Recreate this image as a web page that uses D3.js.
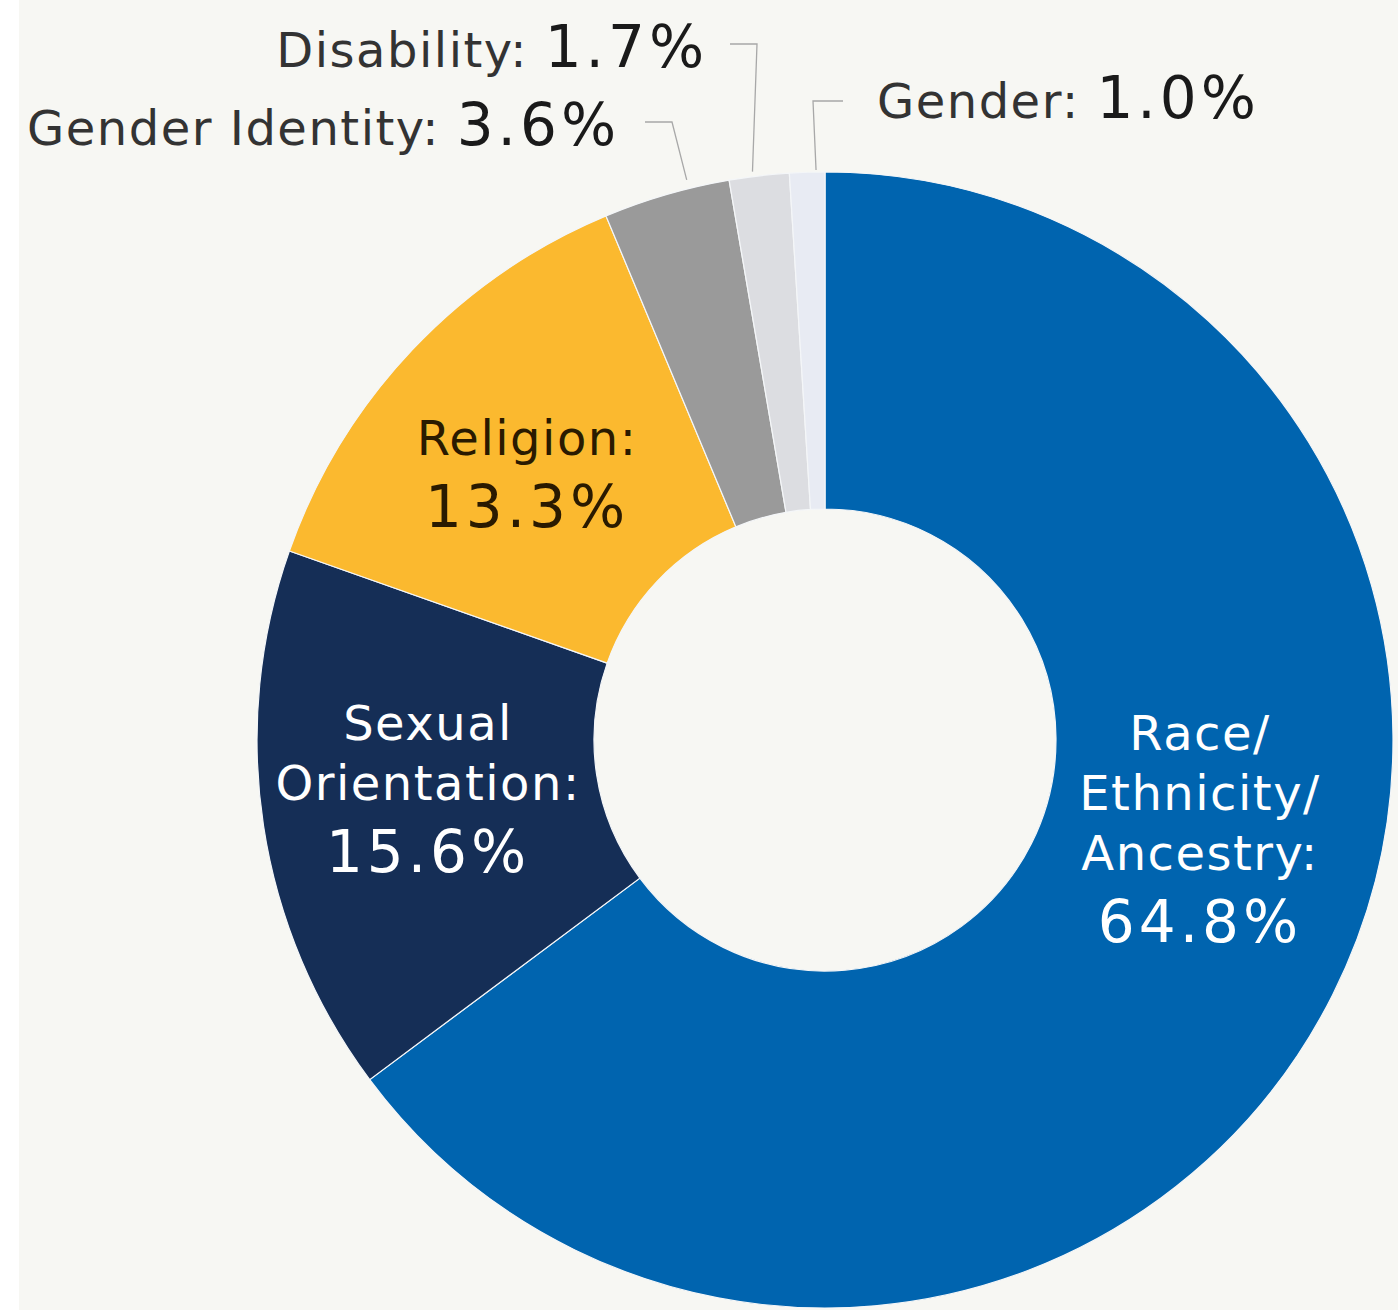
<!DOCTYPE html>
<html>
<head>
<meta charset="utf-8">
<script src="https://cdn.jsdelivr.net/npm/d3@7"></script>
<style>
  body { margin: 0; background: #ffffff; }
  svg { display: block; }
</style>
</head>
<body>
<div id="donut"></div>
<script>
// categories, clockwise from 12 o'clock
const categories = ['Race/Ethnicity/Ancestry', 'Sexual Orientation', 'Religion', 'Gender Identity', 'Disability', 'Gender'];
const values = [64.8, 15.6, 13.3, 3.6, 1.7, 1.0];
const colors = ['#0064af', '#152e56', '#fbb92f', '#9a9a9a', '#dcdde1', '#e8ebf3'];

const width = 1398
const height = 1310
const cx = 825, cy = 740
const outerR = 568, innerR = 231

const data = categories.map((c, i) => ({ name: c, value: values[i], color: colors[i] }));

const svg = d3.select('#donut')
  .append('svg')
  .attr('width', width)
  .attr('height', height);

// background (the picture has a thin white strip on the left)
svg.append('rect')
  .attr('x', 19).attr('y', 0)
  .attr('width', width - 19).attr('height', height)
  .attr('fill', '#f7f7f3');

const g = svg.append('g').attr('transform', `translate(${cx},${cy})`);

const pie = d3.pie().value(d => d.value).sort(null);
const arc = d3.arc().innerRadius(innerR).outerRadius(outerR);
const arcs = pie(data);

g.selectAll('.slice')
  .data(arcs)
  .enter()
  .append('path')
  .classed('slice', true)
  .attr('d', arc)
  .attr('fill', d => d.data.color)
  .attr('stroke', '#f4f6f8')
  .attr('stroke-width', 1.2);

const font = 'Verdana, "DejaVu Sans", sans-serif';
const nameSize = '48px', numSize = '58px';
const nameSpacing = '1.5px', numSpacing = '4px';

// labels inside the big slices
const inside = {
  'Race/Ethnicity/Ancestry': { dx: 375, y: 10, lines: ['Race/', 'Ethnicity/', 'Ancestry:'], color: '#ffffff' },
  'Sexual Orientation': { dx: -397, y: 0, lines: ['Sexual', 'Orientation:'], color: '#ffffff' },
  'Religion': { dx: -298, y: -285, lines: ['Religion:'], color: '#2a1a00' }
};

arcs.forEach(a => {
  const lab = inside[a.data.name];
  if (!lab) return;
  const t = g.append('text')
    .attr('text-anchor', 'middle')
    .attr('fill', lab.color)
    .style('font-family', font);
  lab.lines.forEach((l, i) => {
    t.append('tspan')
      .attr('x', lab.dx)
      .attr('y', lab.y + i * 60)
      .style('font-size', nameSize)
      .style('letter-spacing', nameSpacing)
      .text(l);
  });
  t.append('tspan')
    .attr('x', lab.dx)
    .attr('y', lab.y + lab.lines.length * 60 + 12)
    .style('font-size', numSize)
    .style('letter-spacing', numSpacing)
    .text(a.data.value.toFixed(1) + '%');
});

// outside labels for the small slices; "at" = where along the slice the leader meets it
const outside = {
  'Gender Identity': { x: 620, y: 145, anchor: 'end', at: 0.68, r: 577, elbow: [[645, 122], [672, 122]] },
  'Disability': { x: 708, y: 67, anchor: 'end', at: 0.4, r: 573, elbow: [[730, 44], [757, 44]] },
  'Gender': { x: 877, y: 118, anchor: 'start', at: 0.75, r: 570, elbow: [[843, 101], [813, 101]] }
};

arcs.forEach(a => {
  const lab = outside[a.data.name];
  if (!lab) return;
  const ang = a.startAngle + (a.endAngle - a.startAngle) * lab.at;
  const end = [cx + lab.r * Math.sin(ang), cy - lab.r * Math.cos(ang)];
  svg.append('path')
    .attr('d', d3.line()([...lab.elbow, end]))
    .attr('fill', 'none')
    .attr('stroke', '#a8a8a8')
    .attr('stroke-width', 1.3);
  const t = svg.append('text')
    .attr('x', lab.x)
    .attr('y', lab.y)
    .attr('text-anchor', lab.anchor)
    .style('font-family', font);
  t.append('tspan')
    .style('font-size', nameSize)
    .style('letter-spacing', nameSpacing)
    .attr('fill', '#333333')
    .text(a.data.name + ': ');
  t.append('tspan')
    .style('font-size', numSize)
    .style('letter-spacing', numSpacing)
    .attr('fill', '#1a1a1a')
    .text(a.data.value.toFixed(1) + '%');
});
</script>
</body>
</html>
